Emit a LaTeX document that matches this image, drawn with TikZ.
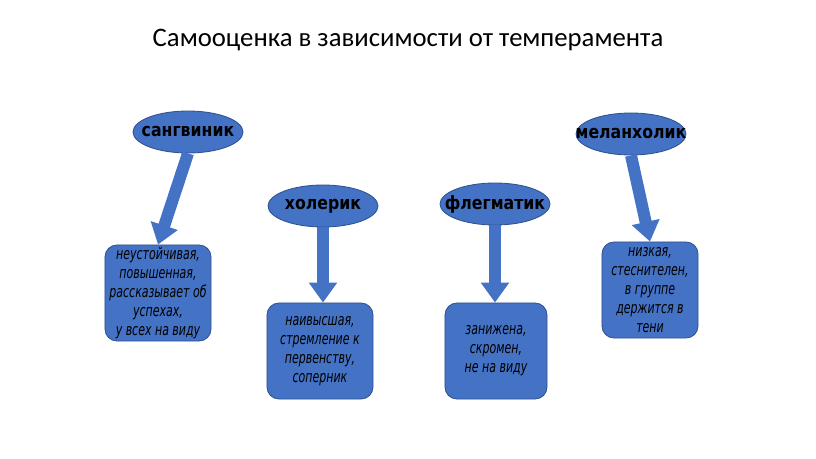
\documentclass[tikz,border=0pt]{standalone}
\usepackage{fontspec}
\setmainfont{Carlito}
\newfontfamily\labelfont[FakeStretch = 0.86]{DejaVu Sans}
\newfontfamily\traitfont[FakeStretch = 0.68]{DejaVu Sans Oblique}
\usetikzlibrary{arrows.meta, shapes.geometric}

\definecolor{officeblue}{HTML}{4472C4}
\definecolor{officeedge}{HTML}{2F528F}

\newcommand{\tname}[1]{\makebox[0pt]{#1}}

\tikzset{
	temper/.style = {ellipse, fill = officeblue, draw = officeedge, line width = 0.6pt,
		minimum width = 2.75cm, minimum height = 1.05cm, inner sep = 0pt,
		font = \labelfont\bfseries\fontsize{13}{15}\selectfont},
	trait/.style = {rectangle, rounded corners = 0.3cm, fill = officeblue, draw = officeedge,
		line width = 0.6pt, minimum width = 2.65cm, minimum height = 2.4cm, inner sep = 1pt,
		align = center, font = \traitfont\fontsize{11.5}{13.5}\selectfont},
	blockarrow/.style = {draw = officeblue, line width = 0.3cm,
		-{Triangle[width = 0.68cm, length = 0.5cm]}}
}

\begin{document}
\begin{tikzpicture}[x = 0.025cm, y = -0.025cm]

	\useasboundingbox (0, 0) rectangle (816, 459);

	% Title

	\node (title) at (408, 40) {\fontsize{19}{23}\selectfont Самооценка в зависимости от темперамента};

	% Temperaments

	\node [temper] (sang) at (188, 132) {\tname{сангвиник}};
	\node [temper] (chol) at (323, 206) {\tname{холерик}};
	\node [temper] (phleg) at (495, 204) {\tname{флегматик}};
	\node [temper] (melan) at (631, 134) {\tname{меланхолик}};

	% Self-esteem boxes

	\node [trait] (sangbox) at (158, 293) {неустойчивая,\\повышенная,\\рассказывает об\\успехах,\\у всех на виду};
	\node [trait] (cholbox) at (320, 351) {наивысшая,\\стремление к\\первенству,\\соперник};
	\node [trait, minimum width = 2.55cm] (phlegbox) at (496, 351) {занижена,\\скромен,\\не на виду};
	\node [trait, minimum width = 2.4cm] (melanbox) at (650, 290) {низкая,\\стеснителен,\\в группе\\держится в\\тени};

	% Arrows

	\draw [blockarrow] (sang.south) -- (sangbox.north);
	\draw [blockarrow] (chol.south) -- (cholbox.north -| chol.south);
	\draw [blockarrow] (phleg.south) -- (phlegbox.north -| phleg.south);
	\draw [blockarrow] (melan.south) -- (melanbox.north);

\end{tikzpicture}
\end{document}
